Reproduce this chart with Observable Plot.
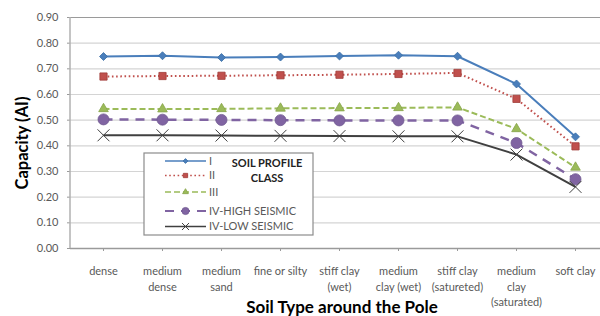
<!DOCTYPE html>
<html><head><meta charset="utf-8">
<script src="https://cdn.jsdelivr.net/npm/d3@7"></script>
<script src="https://cdn.jsdelivr.net/npm/@observablehq/plot@0.6"></script>
<style>
html,body{margin:0;padding:0;background:#fff;}
svg{display:block;}
</style>
</head><body>
<div id="chart"></div>
<script>
const categories = ["dense","medium dense","medium sand","fine or silty","stiff clay (wet)","medium clay (wet)","stiff clay (satureted)","medium clay (saturated)","soft clay"];
const tickLabels = ["dense","medium\ndense","medium\nsand","fine or silty","stiff clay\n(wet)","medium\nclay (wet)","stiff clay\n(satureted)","medium\nclay\n(saturated)","soft clay"];
const seriesNames = ["I","II","III","IV-HIGH SEISMIC","IV-LOW SEISMIC"];
const valuesI   = [0.748,0.751,0.744,0.746,0.750,0.753,0.749,0.641,0.435];
const valuesII  = [0.670,0.672,0.673,0.675,0.677,0.680,0.684,0.583,0.398];
const valuesIII = [0.544,0.543,0.544,0.546,0.547,0.548,0.550,0.466,0.316];
const valuesIVH = [0.503,0.502,0.501,0.500,0.499,0.499,0.499,0.411,0.270];
const valuesIVL = [0.441,0.441,0.440,0.439,0.438,0.437,0.437,0.366,0.240];
const yTicks = [0,0.1,0.2,0.3,0.4,0.5,0.6,0.7,0.8,0.9];
const legendTitle = ["SOIL PROFILE","CLASS"];
const xTitle = "Soil Type around the Pole";
const yTitle = "Capacity (AI)";

const allValues = [valuesI,valuesII,valuesIII,valuesIVH,valuesIVL];
const styles = [
  {stroke:"#4a7ebb", dash:null, width:2, symbol:"diamond2", r:3.6, fill:"#4a7ebb", mstroke:"#3a6ea5", sw:0.8},
  {stroke:"#c0504d", dash:"1.6,2.6", width:2, symbol:"square2", r:4.6, fill:"#c0504d", mstroke:"#a03c39", sw:0.8},
  {stroke:"#9bbb59", dash:"6,3", width:2, symbol:"triangle2", r:4.6, fill:"#9bbb59", mstroke:"#86a34a", sw:0.8},
  {stroke:"#8064a2", dash:"9,7", width:2.5, symbol:"circle", r:5.5, fill:"#8064a2", mstroke:"#705990", sw:0.8},
  {stroke:"#404040", dash:null, width:2, symbol:"times", r:5.5, fill:"none", mstroke:"#404040", sw:1}
];
const rows = [];
seriesNames.forEach((s,i)=>categories.forEach((c,j)=>rows.push({series:s, cat:c, v:allValues[i][j], idx:i})));

const lineMarks = [], dotMarks = [];
seriesNames.forEach((s,i)=>{
  const st = styles[i];
  const d = rows.filter(r=>r.idx===i);
  lineMarks.push(Plot.line(d,{x:"cat",y:"v",stroke:st.stroke,strokeWidth:st.width,strokeDasharray:st.dash,strokeLinecap:"butt"}));
  dotMarks.push(Plot.dot(d,{x:"cat",y:"v",symbol:st.symbol,r:st.r,fill:st.fill,stroke:st.mstroke,strokeWidth:st.sw}));
});

const labelMap = new Map(categories.map((c,i)=>[c,tickLabels[i]]));

const chart = Plot.plot({
  width:600, height:316,
  marginLeft:70, marginTop:17, marginBottom:68, marginRight:0,
  style:{fontFamily:"Lato, 'Open Sans', sans-serif", fontSize:"11px", color:"#595959", background:"#fff", overflow:"hidden"},
  x:{type:"point", domain:categories, range:[70,607], padding:0.5},
  y:{domain:[0,0.9], range:[248,17]},
  marks:[
    Plot.ruleY(yTicks.slice(1,-1),{stroke:"#d4d4d4", strokeWidth:1.2}),
    Plot.ruleY([0.9],{stroke:"#9a9a9a", strokeWidth:1}),
    Plot.ruleY([0],{stroke:"#9a9a9a", strokeWidth:1.5}),
    Plot.axisY({ticks:yTicks, tickFormat:d3.format(".2f"), tickSize:3, tickPadding:9, stroke:"#9a9a9a", label:null, fill:"#595959"}),
    Plot.axisX({tickFormat:d=>labelMap.get(d), tickSize:3, tickPadding:13, lineHeight:1.4, stroke:"#9a9a9a", label:null, fill:"#595959"}),
    ...lineMarks,
    ...dotMarks
  ]
});

const svg = d3.select(chart);
svg.append("line").attr("x1",70).attr("x2",70).attr("y1",17).attr("y2",248).attr("stroke","#b0b0b0").attr("stroke-width",1.5);
svg.append("text").attr("transform","translate(28,143) rotate(-90)").attr("text-anchor","middle")
  .style("font-weight","bold").style("font-size","16.5px").attr("fill","#000").text(yTitle);
svg.append("text").attr("x",342).attr("y",313).attr("text-anchor","middle")
  .style("font-weight","bold").style("font-size","17px").attr("fill","#000").text(xTitle);

// legend
const lg = svg.append("g").attr("text-anchor","start");
lg.append("rect").attr("x",144).attr("y",153).attr("width",169).attr("height",82).attr("fill","#fff").attr("stroke","#8c8c8c").attr("stroke-width",1.2);
const rowY = [161,175.5,192,211,226.5];
const sym = {diamond2:d3.symbolDiamond2, square2:d3.symbolSquare2, triangle2:d3.symbolTriangle2, circle:d3.symbolCircle, times:d3.symbolTimes};
seriesNames.forEach((s,i)=>{
  const st = styles[i], y = rowY[i];
  lg.append("line").attr("x1",165).attr("x2",206).attr("y1",y).attr("y2",y)
    .attr("stroke",st.stroke).attr("stroke-width",st.width-0.5).attr("stroke-dasharray",st.dash);
  const rr = i===3 ? st.r*0.65 : st.r*0.6;
  const sz = rr*rr*Math.PI;
  lg.append("path").attr("transform",`translate(185.5,${y})`)
    .attr("d",d3.symbol(sym[st.symbol], sz)())
    .attr("fill",st.fill).attr("stroke",st.mstroke).attr("stroke-width",st.sw);
  lg.append("text").attr("x",209).attr("y",y).attr("dy","0.35em").attr("text-anchor","start").attr("fill","#595959").style("font-size","11px").text(s);
});
legendTitle.forEach((t,i)=>{
  lg.append("text").attr("x",267).attr("y",163+i*15.5).attr("dy","0.35em").attr("text-anchor","middle")
    .attr("fill","#222").style("font-weight","bold").style("font-size","11px").text(t);
});

document.getElementById("chart").appendChild(chart);
</script>
</body></html>
